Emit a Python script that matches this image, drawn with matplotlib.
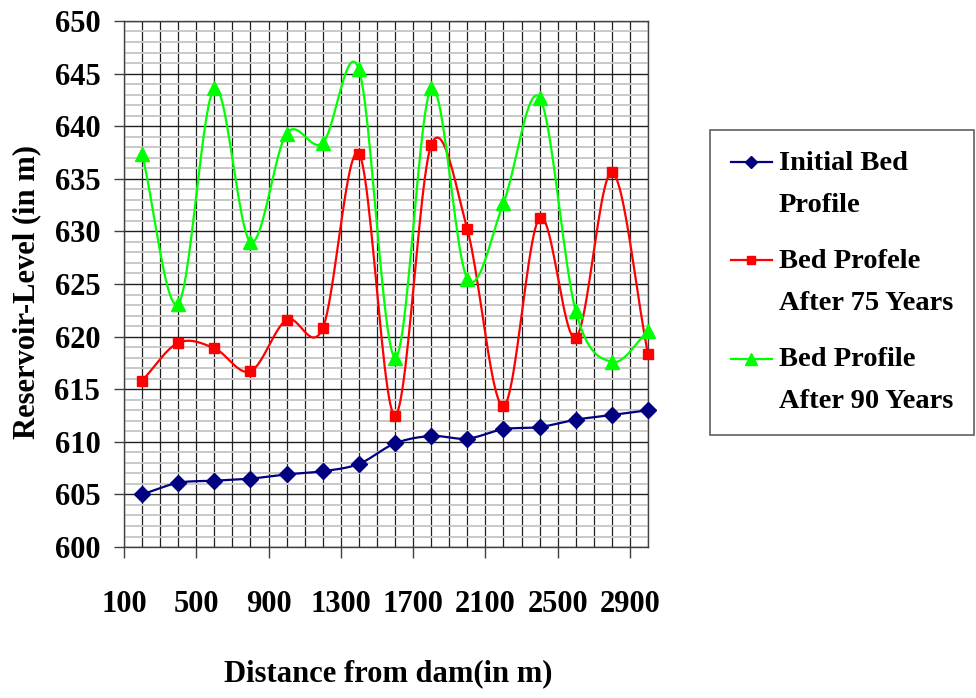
import numpy as np
import matplotlib
matplotlib.use("Agg")
import matplotlib.pyplot as plt
from matplotlib.lines import Line2D
from matplotlib.legend_handler import HandlerLine2D

# distance from dam (m)
distance = [200, 400, 600, 800, 1000, 1200, 1400, 1600, 1800, 2000, 2200, 2400, 2600, 2800, 3000]

initial_bed = [605.0, 606.1, 606.3, 606.5, 606.9, 607.2, 607.9, 609.85, 610.55, 610.3,
               611.2, 611.4, 612.1, 612.55, 613.0]
bed_75 = [615.8, 619.4, 618.9, 616.7, 621.6, 620.8, 637.4, 612.5, 638.2, 630.2,
          613.4, 631.3, 619.9, 635.6, 618.3]
bed_90 = [637.4, 623.1, 643.6, 629.0, 639.3, 638.4, 645.4, 618.0, 643.6, 625.5,
          632.7, 642.7, 622.4, 617.6, 620.5]

labels = ["Initial Bed\nProfile", "Bed Profele\nAfter 75 Years", "Bed Profile\nAfter 90 Years"]
colors = ["#000080", "#ff0000", "#00ff00"]
markers = ["D", "s", "^"]
msizes = [8, 7.5, 10]


def smooth(x, y, n=24):
    # cubic hermite with catmull-rom tangents (like Excel "smoothed line")
    x = np.asarray(x, float)
    y = np.asarray(y, float)
    m = np.zeros_like(y)
    m[1:-1] = (y[2:] - y[:-2]) / (x[2:] - x[:-2])
    m[0] = (y[1] - y[0]) / (x[1] - x[0])
    m[-1] = (y[-1] - y[-2]) / (x[-1] - x[-2])
    xs, ys = [], []
    t = np.linspace(0, 1, n, endpoint=False)
    for i in range(len(x) - 1):
        h = x[i + 1] - x[i]
        h00 = 2 * t**3 - 3 * t**2 + 1
        h10 = t**3 - 2 * t**2 + t
        h01 = -2 * t**3 + 3 * t**2
        h11 = t**3 - t**2
        xs.append(x[i] + t * h)
        ys.append(h00 * y[i] + h10 * h * m[i] + h01 * y[i + 1] + h11 * h * m[i + 1])
    xs.append([x[-1]])
    ys.append([y[-1]])
    return np.concatenate(xs), np.concatenate(ys)


class FirstLineHandler(HandlerLine2D):
    # put the legend sample next to the first line of a two-line label
    def __init__(self, shift, **kw):
        super().__init__(**kw)
        self.shift = shift

    def create_artists(self, legend, orig_handle, xdescent, ydescent, width, height,
                       fontsize, trans):
        arts = super().create_artists(legend, orig_handle, xdescent, ydescent, width,
                                      height, fontsize, trans)
        for a in arts:
            a.set_ydata(np.asarray(a.get_ydata(), float) + self.shift)
        return arts


plt.rcParams["font.family"] = ["Liberation Serif", "DejaVu Serif"]
plt.rcParams["font.weight"] = "bold"

fig = plt.figure(figsize=(9.76, 6.98), dpi=100)
ax = fig.add_axes([0.127, 0.2163, 0.537, 0.7537])

ax.set_xlim(100, 3000)
ax.set_ylim(600, 650)

ax.set_xticks(np.arange(100, 3000, 400))
ax.set_xticks(np.arange(100, 3001, 100), minor=True)
ax.set_yticks(np.arange(600, 651, 5))
ax.set_yticks(np.arange(600, 651, 1), minor=True)

ax.set_axisbelow(True)
ax.grid(axis="y", which="minor", color="#c8c8c8", lw=1.4)
ax.grid(axis="y", which="major", color="#202020", lw=1.0)
ax.grid(axis="x", which="both", color="#202020", lw=0.9)

ax.tick_params(axis="both", which="minor", length=0)
ax.tick_params(axis="y", which="major", length=7, width=1, color="#404040",
               labelsize=22, pad=10)
ax.tick_params(axis="x", which="major", length=8, width=1, color="#404040",
               labelsize=22, pad=23)
for lab in ax.get_xticklabels() + ax.get_yticklabels():
    lab.set_fontweight("bold")

for sp in ax.spines.values():
    sp.set_color("#404040")
    sp.set_linewidth(1)

series = [initial_bed, bed_75, bed_90]
handles = []
for vals, c, mk, ms, lb in zip(series, colors, markers, msizes, labels):
    sx, sy = smooth(distance, vals)
    ax.plot(sx, sy, color=c, lw=1.6, zorder=3)
    ax.plot(distance, vals, ls="none", marker=mk, ms=ms, color=c, zorder=4, clip_on=False)
    handles.append(Line2D([0], [0], color=c, lw=1.6, marker=mk, ms=ms * 0.8, label=lb))

ax.set_xlabel("Distance from dam(in m)", fontsize=22, fontweight="bold")
ax.xaxis.set_label_coords(0.504, -0.24)
ax.xaxis.label.set_verticalalignment("center")
ax.set_ylabel("Reservoir-Level (in m)", fontsize=22, fontweight="bold")
ax.yaxis.set_label_coords(-0.185, 0.485)
ax.yaxis.label.set_verticalalignment("center")

leg = fig.legend(handles=handles, loc="upper left", bbox_to_anchor=(710 / 976, 1 - 130 / 698),
                 frameon=True, fancybox=False, edgecolor="#606060", framealpha=1,
                 prop={"size": 20.5, "weight": "bold"}, handlelength=1.45,
                 handletextpad=0.25, borderpad=0.72, labelspacing=1.06, borderaxespad=0,
                 handler_map={Line2D: FirstLineHandler(15.5)})
leg.get_frame().set_linewidth(1.2)
for t in leg.get_texts():
    t.set_linespacing(1.94)

fig.savefig("out.png", dpi=100)
